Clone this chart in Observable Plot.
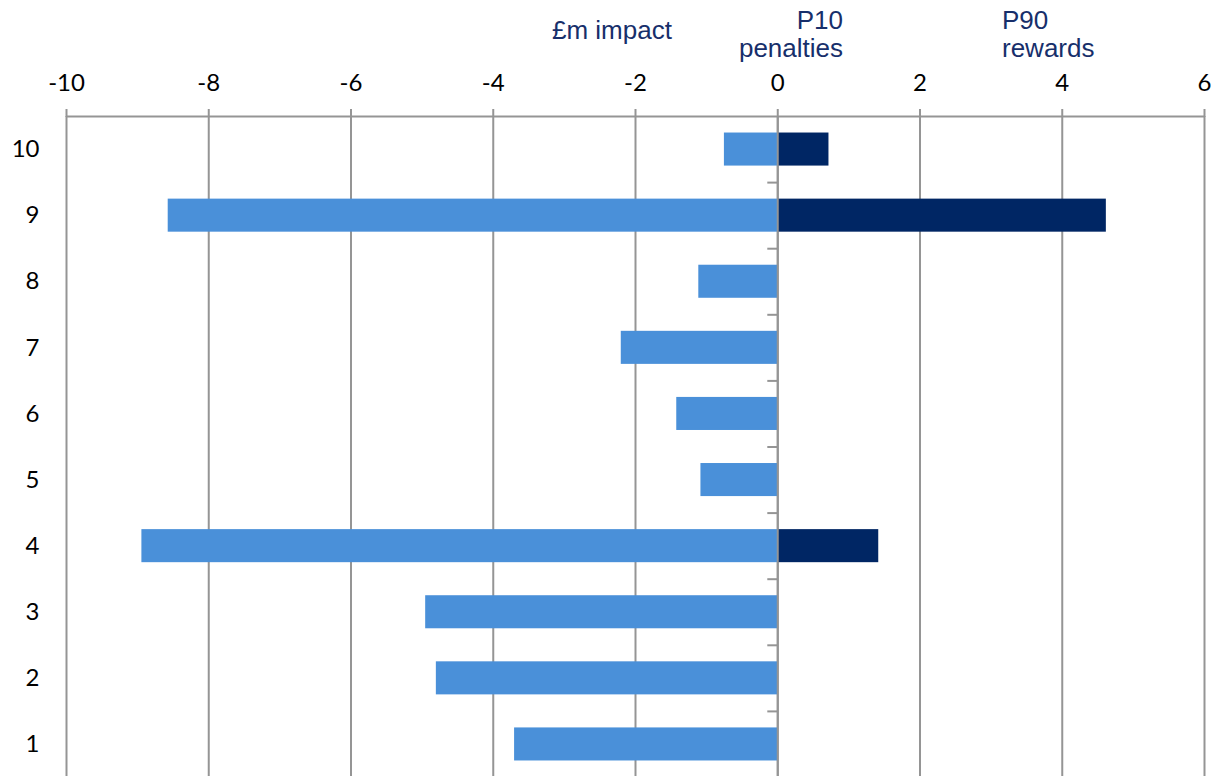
<!DOCTYPE html>
<html>
<head>
<meta charset="utf-8">
<script src="https://cdn.jsdelivr.net/npm/d3@7"></script>
<script src="https://cdn.jsdelivr.net/npm/@observablehq/plot@0.6"></script>
<style>
  html, body { margin: 0; padding: 0; background: #fff; overflow: hidden; }
  #wrap { position: relative; width: 1216px; height: 776px; }
  .head {
    position: absolute;
    font-family: "Liberation Sans", Arial, sans-serif;
    font-size: 26px;
    line-height: 28px;
    color: #172f6b;
    white-space: nowrap;
  }
  #chart svg { display: block; }
</style>
</head>
<body>
<div id="wrap">
  <div id="chart"></div>
  <div class="head" style="left:552px; top:16px;">£m impact</div>
  <div class="head" style="right:373px; top:6px; text-align:right;">P10<br>penalties</div>
  <div class="head" style="left:1002px; top:6px;">P90<br>rewards</div>
</div>
<script>
// Scenario numbers (1 = bottom row, 10 = top row)
const categories = [1, 2, 3, 4, 5, 6, 7, 8, 9, 10];
// P10 downside (penalties), £m
const p10Penalties = [-3.70, -4.80, -4.95, -8.94, -1.08, -1.42, -2.20, -1.11, -8.57, -0.75];
// P90 upside (rewards), £m
const p90Rewards = [0, 0, 0, 1.42, 0, 0, 0, 0, 4.62, 0.72];
// Axis ticks
const xTicks = [-10, -8, -6, -4, -2, 0, 2, 4, 6];

const lightBlue = "#4a90d9";
const navy = "#002664";
const gridGrey = "#959595";

const rows = categories.map((c, i) => ({cat: c, p10: p10Penalties[i], p90: p90Rewards[i]}));
const half = 0.25; // bar half-thickness in row units
const boundaries = categories.slice(0, -1).map(c => c + 0.5);

const chart = Plot.plot({
  width: 1216,
  height: 777,
  marginTop: 116,
  marginLeft: 66,
  marginRight: 12,
  marginBottom: 0,
  style: {fontFamily: "Lato, sans-serif", fontSize: "24px", color: "#000", background: "#fff"},
  x: {domain: [-10, 6]},
  y: {domain: [0.5, 10.5]},
  marks: [
    Plot.gridX(xTicks, {stroke: gridGrey, strokeOpacity: 1, strokeWidth: 2}),
    Plot.rect(rows, {x1: 0, x2: "p10", y1: d => d.cat - half, y2: d => d.cat + half, fill: lightBlue}),
    Plot.rect(rows.filter(d => d.p90 > 0), {x1: 0, x2: "p90", y1: d => d.cat - half, y2: d => d.cat + half, fill: navy}),
    Plot.ruleY(boundaries, {x1: -0.14, x2: 0, stroke: gridGrey, strokeWidth: 2}),
    Plot.ruleX([0], {stroke: gridGrey, strokeWidth: 2}),
    Plot.ruleY([10.5], {stroke: gridGrey, strokeWidth: 2}),
    Plot.axisX(xTicks, {anchor: "top", tickSize: 8, tickPadding: 18, stroke: gridGrey, strokeWidth: 2, tickFormat: d => String(d), fill: "#000"}),
    Plot.axisY(categories, {anchor: "left", tickSize: 0, tickPadding: 27, tickFormat: d => String(d), fill: "#000"})
  ]
});

document.getElementById("chart").appendChild(chart);
</script>
</body>
</html>
